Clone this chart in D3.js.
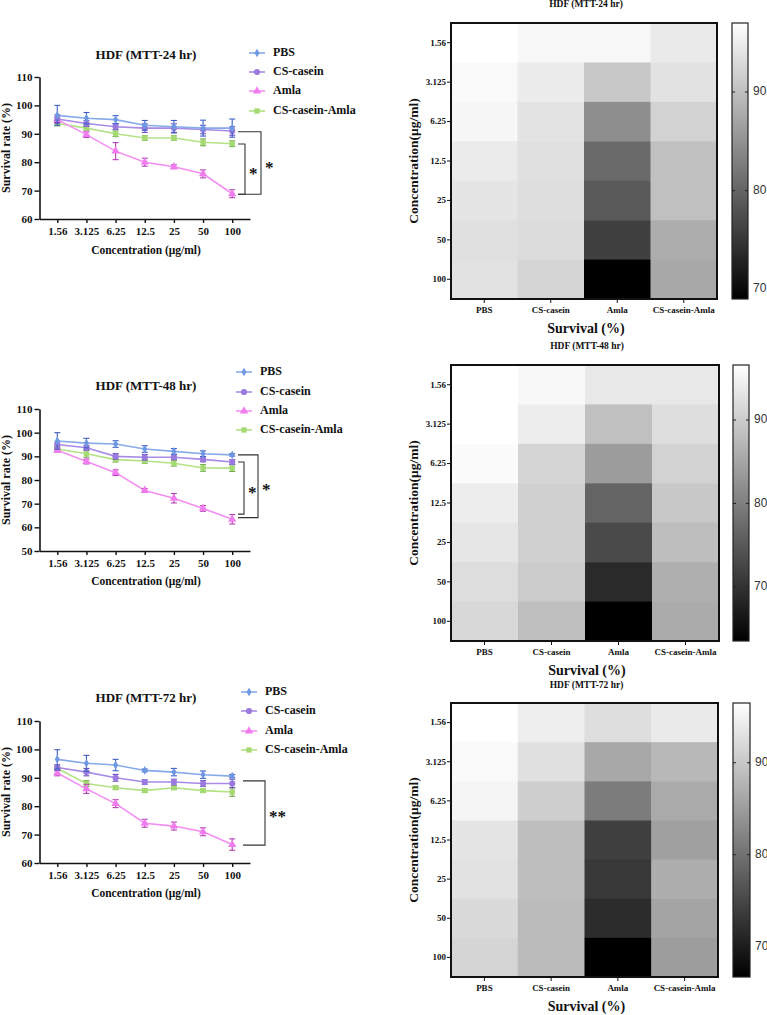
<!DOCTYPE html>
<html>
<head>
<meta charset="utf-8">
<script src="https://cdn.jsdelivr.net/npm/d3@7"></script>
<style>
html,body{margin:0;padding:0;background:#fff;}
svg{display:block;}
</style>
</head>
<body>
<svg id="chart" width="767" height="1015"></svg>
<script>
// ---------- DATA ----------
const concentrations = ["1.56", "3.125", "6.25", "12.5", "25", "50", "100"];
const groups = ["PBS", "CS-casein", "Amla", "CS-casein-Amla"];

// 24 hr (line chart means and SD)
const pbs24 = [96.5, 95.5, 95.0, 93.0, 92.5, 92.0, 92.0];
const pbs24Err = [3.5, 2.0, 1.4, 1.7, 2.2, 2.8, 3.2];
const cas24 = [95.2, 93.6, 92.5, 92.0, 92.0, 91.5, 91.0];
const cas24Err = [1.5, 1.0, 1.0, 1.5, 1.5, 1.5, 1.5];
const amla24 = [95.0, 89.7, 83.9, 80.0, 78.4, 75.9, 68.9];
const amla24Err = [1.0, 1.0, 3.0, 1.4, 0.7, 1.4, 1.4];
const csa24 = [93.6, 92.0, 90.0, 88.5, 88.5, 87.0, 86.5];
const csa24Err = [0.8, 0.8, 1.0, 0.8, 0.8, 1.2, 1.0];

// 48 hr
const pbs48 = [96.5, 95.6, 95.2, 93.1, 92.1, 91.1, 90.6];
const pbs48Err = [3.5, 2.0, 1.4, 1.4, 1.2, 1.2, 0.5];
const cas48 = [95.0, 93.6, 90.0, 89.6, 89.6, 88.7, 87.6];
const cas48Err = [1.0, 1.0, 1.2, 1.2, 1.0, 1.0, 1.0];
const amla48 = [92.6, 87.8, 83.1, 75.6, 72.3, 68.0, 63.4];
const amla48Err = [0.8, 1.0, 1.2, 0.8, 2.0, 1.2, 2.0];
const csa48 = [93.1, 91.1, 88.6, 88.0, 87.1, 85.1, 85.0];
const csa48Err = [0.8, 1.5, 1.0, 1.0, 1.2, 1.4, 1.4];

// 72 hr
const pbs72 = [96.5, 95.1, 94.5, 92.6, 92.0, 91.1, 90.6];
const pbs72Err = [3.4, 2.8, 2.0, 0.5, 1.3, 1.3, 0.6];
const cas72 = [93.6, 92.0, 90.0, 88.5, 88.5, 88.0, 88.0];
const cas72Err = [1.0, 1.3, 1.2, 0.8, 1.0, 1.0, 1.5];
const amla72 = [91.7, 86.1, 80.9, 74.0, 73.0, 71.0, 66.5];
const amla72Err = [1.0, 1.6, 1.4, 1.4, 1.4, 1.4, 2.0];
const csa72 = [93.3, 88.0, 86.5, 85.5, 86.5, 85.5, 85.0];
const csa72Err = [0.8, 1.0, 0.6, 0.6, 0.6, 0.6, 1.5];

// heatmap cell values (survival %), read from cell shading
const heatPbs24 = [97.0, 96.5, 96.1, 94.8, 94.1, 93.6, 93.8];
const heatCas24 = [96.2, 94.9, 93.9, 93.6, 93.4, 93.2, 92.4];
const heatAmla24 = [96.2, 91.0, 84.6, 80.6, 78.9, 76.0, 69.0];
const heatCsa24 = [94.7, 93.8, 92.1, 90.1, 90.1, 88.0, 87.4];

const heatPbs48 = [96.6, 96.6, 96.1, 94.3, 93.4, 92.2, 91.6];
const heatCas48 = [95.7, 94.2, 91.2, 90.5, 90.5, 89.9, 88.3];
const heatAmla48 = [93.6, 88.4, 83.8, 76.5, 73.1, 69.0, 63.5];
const heatCsa48 = [93.6, 92.3, 90.8, 89.5, 88.1, 86.2, 85.7];

const heatPbs72 = [96.5, 95.9, 95.3, 93.5, 93.1, 92.2, 91.6];
const heatCas72 = [94.5, 92.9, 90.9, 88.9, 88.9, 88.5, 88.5];
const heatAmla72 = [92.7, 86.3, 81.2, 74.2, 73.2, 71.8, 66.7];
const heatCsa72 = [94.1, 88.2, 86.6, 85.4, 87.0, 85.9, 85.0];

// significance brackets (values in survival %)
const brackets24 = [{top: 90.7, bottom: 68.7, label: "*"}, {top: 86.4, bottom: 68.7, label: "*"}];
const brackets48 = [{top: 90.6, bottom: 64.1, label: "*"}, {top: 87.6, bottom: 65.6, label: "*"}];
const brackets72 = [{top: 88.9, bottom: 66.3, label: "**"}];

// axis tick values
const yTicks24 = [60, 70, 80, 90, 100, 110];
const yTicks48 = [50, 60, 70, 80, 90, 100, 110];
const yTicks72 = [60, 70, 80, 90, 100, 110];
const cbarTicks = [70, 80, 90];

// heatmap colour domains
const heatDomain24 = [69, 97];
const heatDomain48 = [63.5, 96.6];
const heatDomain72 = [66.7, 96.5];

// ---------- STYLE ----------
const serif = "'Liberation Serif','Times New Roman',serif";
const sans = "'Liberation Sans',Arial,sans-serif";
const seriesStyle = {
  "PBS": {line: "#86aaea", mark: "#6f98e2", err: "#3f5fc6", sym: d3.symbolDiamond, size: 22},
  "CS-casein": {line: "#a78be6", mark: "#9a7ade", err: "#6d4fc0", sym: d3.symbolCircle, size: 30},
  "Amla": {line: "#f58ef3", mark: "#f07cee", err: "#b43fb4", sym: d3.symbolTriangle, size: 30},
  "CS-casein-Amla": {line: "#b2e284", mark: "#a5d972", err: "#6faa45", sym: d3.symbolSquare, size: 28}
};

const svg = d3.select("#chart");

function lineChart(o) {
  const g = svg.append("g");
  const x = d3.scalePoint().domain(concentrations).range([39.5, 250]).padding(0.61);
  const y = d3.scaleLinear().domain(o.yDomain).range([o.yBottom, o.yTop]);

  const xa = g.append("g").attr("transform", `translate(0,${o.yBottom})`)
    .call(d3.axisBottom(x).tickSize(4).tickSizeOuter(0).tickPadding(4));
  const ya = g.append("g").attr("transform", `translate(39.5,0)`)
    .call(d3.axisLeft(y).tickValues(o.yTicks).tickSize(5).tickSizeOuter(0).tickPadding(2));
  [xa, ya].forEach(a => {
    a.select(".domain").attr("stroke", "#111").attr("stroke-width", 1.6);
    a.selectAll(".tick line").attr("stroke", "#111").attr("stroke-width", 1.4);
    a.selectAll(".tick text").attr("font-family", serif).attr("font-weight", "bold")
      .attr("font-size", 11).attr("fill", "#111");
  });

  g.append("text").attr("x", 146).attr("y", o.titleY).attr("text-anchor", "middle")
    .attr("dominant-baseline", "middle").attr("font-family", serif).attr("font-weight", "bold")
    .attr("font-size", 13).attr("fill", "#111").text(o.title);
  g.append("text").attr("x", 146).attr("y", o.xTitleY).attr("text-anchor", "middle")
    .attr("dominant-baseline", "middle").attr("font-family", serif).attr("font-weight", "bold")
    .attr("font-size", 11.5).attr("fill", "#111").text("Concentration (μg/ml)");
  g.append("text").attr("transform", `translate(7,${(o.yTop + o.yBottom) / 2}) rotate(-90)`)
    .attr("text-anchor", "middle").attr("dominant-baseline", "middle").attr("font-family", serif)
    .attr("font-weight", "bold").attr("font-size", 12).attr("fill", "#111").text("Survival rate (%)");

  const order = [3, 2, 1, 0];
  order.forEach(si => {
    const name = groups[si];
    const st = seriesStyle[name];
    const vals = o.series[si], errs = o.errors[si];
    const pts = vals.map((v, i) => ({c: concentrations[i], v, e: errs[i]}));
    g.append("path").datum(pts).attr("fill", "none").attr("stroke", st.line).attr("stroke-width", 1.6)
      .attr("d", d3.line().x(d => x(d.c)).y(d => y(d.v)));
    const eb = g.append("g").attr("stroke", st.err).attr("stroke-width", 1.1);
    pts.forEach(d => {
      const cx = x(d.c);
      eb.append("line").attr("x1", cx).attr("x2", cx).attr("y1", y(d.v - d.e)).attr("y2", y(d.v + d.e));
      eb.append("line").attr("x1", cx - 3).attr("x2", cx + 3).attr("y1", y(d.v + d.e)).attr("y2", y(d.v + d.e));
      eb.append("line").attr("x1", cx - 3).attr("x2", cx + 3).attr("y1", y(d.v - d.e)).attr("y2", y(d.v - d.e));
    });
    g.append("g").selectAll("path").data(pts).join("path")
      .attr("transform", d => `translate(${x(d.c)},${y(d.v)})`)
      .attr("d", d3.symbol().type(st.sym).size(st.size)).attr("fill", st.mark);
  });

  // legend
  groups.forEach((name, i) => {
    const st = seriesStyle[name];
    const ly = o.legendY[i];
    g.append("line").attr("x1", o.legendX).attr("x2", o.legendX + 16).attr("y1", ly).attr("y2", ly)
      .attr("stroke", st.line).attr("stroke-width", 1.6);
    g.append("path").attr("transform", `translate(${o.legendX + 8},${ly})`)
      .attr("d", d3.symbol().type(st.sym).size(st.size)).attr("fill", st.mark);
    g.append("text").attr("x", o.legendX + 24).attr("y", ly).attr("dominant-baseline", "middle")
      .attr("font-family", serif).attr("font-weight", "bold").attr("font-size", 12).attr("fill", "#111")
      .text(name);
  });

  // brackets
  o.brackets.forEach((b, i) => {
    const bx = o.bracketX[i];
    const y1 = y(b.top), y2 = y(b.bottom);
    g.append("path").attr("fill", "none").attr("stroke", "#333").attr("stroke-width", 1.1)
      .attr("d", `M${o.armX},${y1}H${bx}V${y2}H${o.armX}`);
    g.append("text").attr("x", bx + 4).attr("y", o.starY[i] + 7).attr("font-family", serif)
      .attr("font-weight", "bold").attr("font-size", 17).attr("fill", "#111").text(b.label);
  });
}

function heatmap(o) {
  const g = svg.append("g");
  const x = d3.scaleBand().domain(groups).range([o.left, o.right]);
  const y = d3.scaleBand().domain(concentrations).range([o.top, o.bottom]);
  const color = d3.scaleLinear().domain(o.domain).range(["#000", "#fff"]).clamp(true);

  const cells = [];
  groups.forEach((gr, gi) => concentrations.forEach((c, ci) => cells.push({gr, c, v: o.values[gi][ci]})));
  g.append("g").selectAll("rect").data(cells).join("rect")
    .attr("x", d => x(d.gr)).attr("y", d => y(d.c))
    .attr("width", x.bandwidth() + 0.5).attr("height", y.bandwidth() + 0.5)
    .attr("fill", d => color(d.v));
  g.append("rect").attr("x", o.left).attr("y", o.top).attr("width", o.right - o.left)
    .attr("height", o.bottom - o.top).attr("fill", "none").attr("stroke", "#111").attr("stroke-width", 2);

  const xa = g.append("g").attr("transform", `translate(0,${o.bottom + 1})`)
    .call(d3.axisBottom(x).tickSize(3).tickSizeOuter(0).tickPadding(4));
  const ya = g.append("g").attr("transform", `translate(${o.left - 1},0)`)
    .call(d3.axisLeft(y).tickSize(3).tickSizeOuter(0).tickPadding(1));
  [xa, ya].forEach(a => {
    a.select(".domain").remove();
    a.selectAll(".tick line").attr("stroke", "#111").attr("stroke-width", 1);
    a.selectAll(".tick text").attr("font-family", serif).attr("font-weight", "bold")
      .attr("font-size", 9).attr("fill", "#111");
  });

  const cx = (o.left + o.right) / 2 + 2;
  g.append("text").attr("x", cx).attr("y", o.titleY).attr("text-anchor", "middle")
    .attr("dominant-baseline", "middle").attr("font-family", serif).attr("font-weight", "bold")
    .attr("font-size", 9.5).attr("fill", "#111").text(o.title);
  g.append("text").attr("x", cx).attr("y", o.xTitleY).attr("text-anchor", "middle")
    .attr("dominant-baseline", "middle").attr("font-family", serif).attr("font-weight", "bold")
    .attr("font-size", 14).attr("fill", "#111").text("Survival (%)");
  g.append("text").attr("transform", `translate(415,${(o.top + o.bottom) / 2}) rotate(-90)`)
    .attr("text-anchor", "middle").attr("dominant-baseline", "middle").attr("font-family", serif)
    .attr("font-weight", "bold").attr("font-size", 13.5).attr("fill", "#111").text("Concentration(μg/ml)");

  // colour bar
  const gid = "grad" + o.id;
  const grad = svg.append("defs").append("linearGradient").attr("id", gid)
    .attr("x1", 0).attr("x2", 0).attr("y1", 1).attr("y2", 0);
  grad.append("stop").attr("offset", 0).attr("stop-color", color(o.domain[0]));
  grad.append("stop").attr("offset", 1).attr("stop-color", color(o.domain[1]));
  g.append("rect").attr("x", o.cbLeft).attr("y", o.top).attr("width", o.cbRight - o.cbLeft)
    .attr("height", o.bottom - o.top).attr("fill", `url(#${gid})`).attr("stroke", "#222").attr("stroke-width", 1.2);
  const cb = d3.scaleLinear().domain(o.domain).range([o.bottom, o.top]);
  cbarTicks.forEach(t => {
    const ty = cb(t);
    if (t !== 70 || o.id !== 1) {
      g.append("line").attr("x1", o.cbLeft).attr("x2", o.cbLeft + 3).attr("y1", ty).attr("y2", ty)
        .attr("stroke", "#222").attr("stroke-width", 1);
      g.append("line").attr("x1", o.cbRight - 3).attr("x2", o.cbRight).attr("y1", ty).attr("y2", ty)
        .attr("stroke", "#222").attr("stroke-width", 1);
    }
    g.append("text").attr("x", o.cbRight + 5).attr("y", ty).attr("dominant-baseline", "middle")
      .attr("font-family", sans).attr("font-size", 12).attr("fill", "#333").text(t);
  });
}

// ---------- DRAW ----------
lineChart({
  title: "HDF (MTT-24 hr)", yDomain: [60, 110], yTicks: yTicks24, yTop: 77, yBottom: 219,
  titleY: 56, xTitleY: 251, legendX: 249, legendY: [53, 72, 91, 111],
  series: [pbs24, cas24, amla24, csa24], errors: [pbs24Err, cas24Err, amla24Err, csa24Err],
  brackets: brackets24, bracketX: [261, 245], starY: [166, 172], armX: 238
});
lineChart({
  title: "HDF (MTT-48 hr)", yDomain: [50, 110], yTicks: yTicks48, yTop: 409, yBottom: 551,
  titleY: 387, xTitleY: 582, legendX: 236, legendY: [372, 392, 411, 430],
  series: [pbs48, cas48, amla48, csa48], errors: [pbs48Err, cas48Err, amla48Err, csa48Err],
  brackets: brackets48, bracketX: [258, 244], starY: [488, 491], armX: 238
});
lineChart({
  title: "HDF (MTT-72 hr)", yDomain: [60, 110], yTicks: yTicks72, yTop: 721, yBottom: 863,
  titleY: 699, xTitleY: 894, legendX: 241, legendY: [692, 711, 731, 750],
  series: [pbs72, cas72, amla72, csa72], errors: [pbs72Err, cas72Err, amla72Err, csa72Err],
  brackets: brackets72, bracketX: [265], starY: [815], armX: 243
});

heatmap({
  id: 1, title: "HDF (MTT-24 hr)", left: 451, right: 717, top: 23, bottom: 299,
  cbLeft: 732, cbRight: 748, domain: heatDomain24, titleY: 5, xTitleY: 330,
  values: [heatPbs24, heatCas24, heatAmla24, heatCsa24]
});
heatmap({
  id: 2, title: "HDF (MTT-48 hr)", left: 451, right: 719, top: 365, bottom: 641,
  cbLeft: 733, cbRight: 749, domain: heatDomain48, titleY: 347, xTitleY: 672,
  values: [heatPbs48, heatCas48, heatAmla48, heatCsa48]
});
heatmap({
  id: 3, title: "HDF (MTT-72 hr)", left: 451, right: 718, top: 703, bottom: 977,
  cbLeft: 733, cbRight: 750, domain: heatDomain72, titleY: 686, xTitleY: 1008,
  values: [heatPbs72, heatCas72, heatAmla72, heatCsa72]
});
</script>
</body>
</html>
